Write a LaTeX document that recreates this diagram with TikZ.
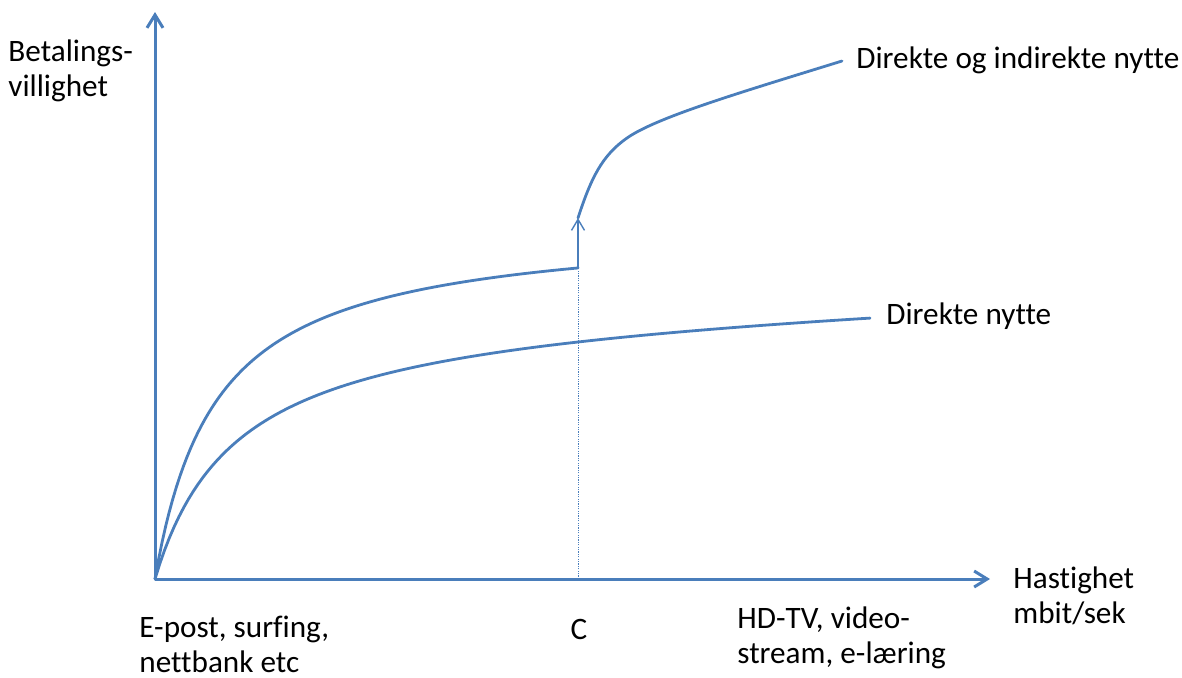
\documentclass[tikz,border=0pt]{standalone}
\usepackage{fontspec}
\setmainfont{Carlito}[Ligatures=NoCommon]
\usetikzlibrary{arrows.meta}
\definecolor{curveblue}{RGB}{74,126,187}

\begin{document}
\begin{tikzpicture}[x=0.5pt,y=-0.5pt,
  axis/.style={curveblue, line width=1.5pt,
    -{Straight Barb[length=6.5pt,width=8pt,line width=1.5pt]}},
  curve/.style={curveblue, line width=1.4pt, line cap=round, line join=round},
  jump/.style={curveblue, line width=0.7pt,
    -{Straight Barb[length=5.5pt,width=6.5pt,line width=0.7pt]}},
  guide/.style={curveblue, line width=0.5pt, dash pattern=on 0.6pt off 0.6pt},
  txt/.style={font=\fontsize{15.6pt}{17.5pt}\selectfont, inner sep=0pt},
  lbl/.style={txt, align=left, anchor=base west}]

\useasboundingbox (0,0) rectangle (1182,677);

% key points
\coordinate (O) at (155,579);
\coordinate (ytop) at (155,12);
\coordinate (xend) at (990,579);
\coordinate (Cbase) at (578,579);
\coordinate (Clow) at (578,268);
\coordinate (Chigh) at (578,218);
\coordinate (Cbend) at (627,138);
\coordinate (Aend) at (842,61);

% axes
\draw[axis] (O) -- (ytop);
\draw[axis] (O) -- (xend);

% dotted guide at C and the jump arrow
\draw[guide] (Cbase) -- (Clow);
\draw[jump] (Clow) -- (Chigh);

% direct + indirect benefit, below C (saturating curve from the origin)
\draw[curve] plot[domain=0:423, samples=120]
  ({155+\x}, {579-356.2*(\x/(61.4+\x))}) -- (Clow);

% direct + indirect benefit, above C
\draw[curve] (Chigh) .. controls (591,178) and (602,155.5) .. (Cbend)
                     .. controls (657,117) and (742,92) .. (Aend);

% direct benefit only
\draw[curve] plot[domain=0:715, samples=150]
  ({155+\x}, {579-267.6*(\x/(80+\x))-0.0283*\x});

% labels (anchored at the baseline of the last line)
\node[lbl] (ylab) at (8,96) {Betalings-\\villighet};
\node[lbl] (both) at (856,68) {Direkte og indirekte nytte};
\node[lbl] (direct) at (886,324) {Direkte nytte};
\node[lbl] (xlab) at (1013,623) {Hastighet\\mbit/sek};
\node[lbl] (low) at (139,672) {E-post, surfing,\\nettbank etc};
\node[txt, anchor=base] (clab) at (579,639) {C};
\node[lbl] (high) at (737,663) {HD-TV, video-\\stream, e-læring};
\end{tikzpicture}
\end{document}
